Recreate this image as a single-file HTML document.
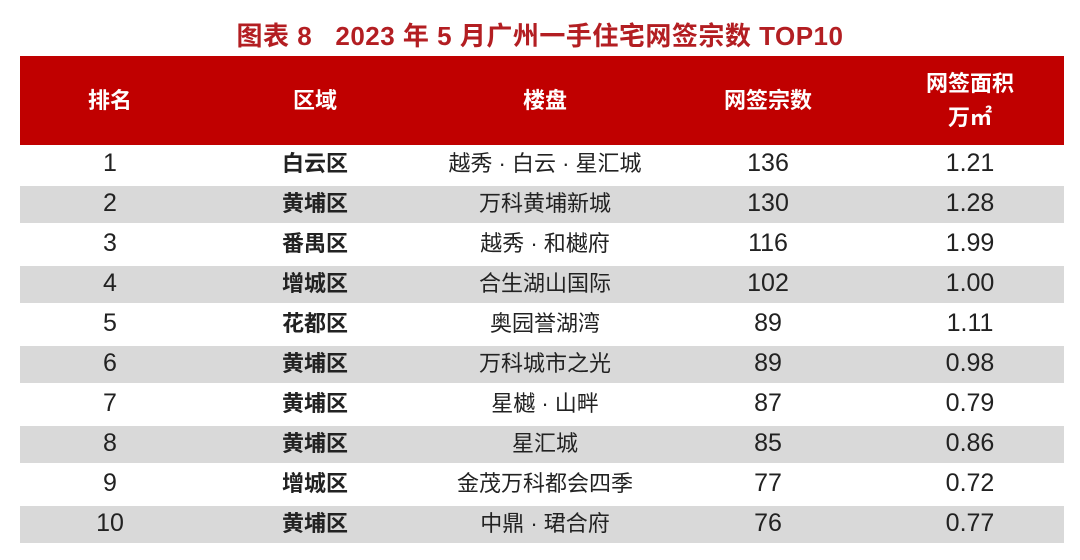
<!DOCTYPE html>
<html><head><meta charset="utf-8"><style>
body{margin:0;width:1080px;height:560px;background:#fff;font-family:"Liberation Sans","Noto Sans CJK SC",sans-serif;position:relative;overflow:hidden}
.title{position:absolute;top:19px;left:0;width:1080px;text-align:center;color:#b31e22;font-weight:bold;font-size:26px;line-height:34px;letter-spacing:0.5px}
.hdr{position:absolute;left:20px;top:56px;width:1044px;height:89px;background:#c00000}
.hc{position:absolute;top:0;height:89px;display:flex;align-items:center;justify-content:center;color:#fff;font-weight:bold;font-size:22px;text-align:center;line-height:34px}
.row{position:absolute;left:20px;width:1044px;height:37px}
.row.g{background:#d9d9d9}
.c{position:absolute;top:0;height:37px;line-height:35px;text-align:center;color:#222;font-size:22px;transform:translateX(-50%);white-space:nowrap}
.n{font-size:25px}
.b{font-weight:bold}
</style></head><body>
<div class="title">图表 8&nbsp;&nbsp;&nbsp;2023 年 5 月广州一手住宅网签宗数 TOP10</div>
<div class="hdr">
<div class="hc" style="left:40px;width:100px">排名</div>
<div class="hc" style="left:245px;width:100px">区域</div>
<div class="hc" style="left:475px;width:100px">楼盘</div>
<div class="hc" style="left:678px;width:140px">网签宗数</div>
<div class="hc" style="left:880px;width:140px">网签面积<br>万㎡</div>
</div>
<div id="rows"></div>
<script>
const ranks=[1,2,3,4,5,6,7,8,9,10];
const districts=["白云区","黄埔区","番禺区","增城区","花都区","黄埔区","黄埔区","黄埔区","增城区","黄埔区"];
const projects=["越秀 · 白云 · 星汇城","万科黄埔新城","越秀 · 和樾府","合生湖山国际","奥园誉湖湾","万科城市之光","星樾 · 山畔","星汇城","金茂万科都会四季","中鼎 · 珺合府"];
const counts=[136,130,116,102,89,89,87,85,77,76];
const areas=["1.21","1.28","1.99","1.00","1.11","0.98","0.79","0.86","0.72","0.77"];
const host=document.getElementById('rows');
ranks.forEach((r,i)=>{
 const row=document.createElement('div');
 row.className='row'+(i%2?' g':'');
 row.style.top=(146+40*i)+'px';
 
 
 const cells=[[90,r,'n','rank-cell'],[295,districts[i],'b','district-cell'],[525,projects[i],'','project-cell'],[748,counts[i],'n','count-cell'],[950,areas[i],'n','area-cell']];
 cells.forEach(c=>{
  const d=document.createElement('div');
  d.className='c '+c[2];
  d.style.left=c[0]+'px';
  d.textContent=c[1];
  
  
  row.appendChild(d);
 });
 host.appendChild(row);
});
</script>
</body></html>
